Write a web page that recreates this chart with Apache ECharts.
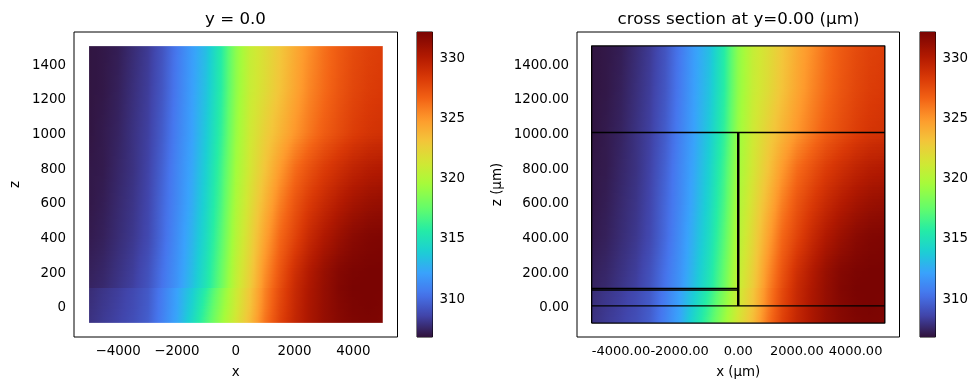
<!DOCTYPE html>
<html><head><meta charset="utf-8">
<style>html,body{margin:0;padding:0;background:#fff}#c{width:980px;height:390px}</style>
<script src="https://cdn.jsdelivr.net/npm/echarts@6/dist/echarts.min.js"></script>
</head><body><div id="c"></div>
<script>
// ---- tick labels / scales ----
const xTicks = [-4000,-2000,0,2000,4000];
const zTicks = [0,200,400,600,800,1000,1200,1400];
const cbTicks = [310,315,320,325,330];
const cbLevels = [306.7,309,311,313,315,317,319,321,323,325,327,329,331,332];
// ---- sampled temperature (columns at xNodes) ----
const xNodes = [-5000,-4500,-4000,-3500,-3000,-2500,-2000,-1500,-1000,-500,0,500,1000,1500,2000,2500,3000,3500,4000,4500,5000];
const T_z1500 = [306.8,306.9,307.1,307.6,308.1,309.0,310.4,311.8,313.1,315.5,318.6,320.6,321.7,322.8,324.0,325.0,326.0,326.8,327.4,327.8,328.0];
const T_z1250 = [306.8,306.9,307.2,307.7,308.2,309.1,310.5,311.9,313.3,315.6,318.7,320.7,321.8,323.0,324.2,325.3,326.2,327.0,327.6,328.0,328.2];
const T_z1000 = [306.8,307.0,307.3,307.8,308.3,309.3,310.7,312.0,313.6,315.9,319.0,321.0,322.4,323.6,324.8,325.8,326.7,327.4,328.0,328.4,328.6];
const T_z800  = [306.9,307.0,307.4,307.8,308.4,309.5,310.9,312.2,313.9,316.3,319.3,321.2,322.9,324.6,326.1,327.1,328.0,328.7,329.3,329.7,329.9];
const T_z600  = [306.9,307.1,307.5,307.9,308.5,309.7,311.0,312.4,314.2,316.6,319.7,321.6,323.6,325.5,327.0,328.1,329.0,329.8,330.4,330.8,331.0];
const T_z400  = [307.0,307.2,307.6,308.0,308.6,309.8,311.2,312.7,314.5,317.0,320.0,322.0,324.3,326.3,327.7,329.0,330.0,330.8,331.4,331.7,331.8];
const T_z200  = [307.2,307.4,307.8,308.2,308.9,310.1,311.4,313.0,314.9,317.4,320.4,322.4,325.0,327.0,328.7,329.9,330.9,331.6,331.9,332.0,332.0];
const T_z100a = [307.3,307.5,307.9,308.3,309.0,310.2,311.5,313.2,315.1,317.6,320.6,322.6,325.3,327.3,329.0,330.1,331.0,331.7,332.0,332.0,332.0];
const T_z100b = [307.6,307.9,308.2,308.6,309.2,310.5,312.0,313.6,315.6,318.2,320.8,322.8,325.4,327.4,329.0,330.1,331.0,331.7,332.0,332.0,332.0];
const T_z0    = [307.7,308.0,308.3,308.7,309.3,310.6,312.1,314.0,316.2,318.6,321.0,323.0,325.6,327.6,329.1,330.2,331.0,331.6,331.9,332.0,331.9];
const T_zm100 = [307.8,308.1,308.4,308.8,309.4,310.7,312.2,314.4,316.6,319.0,321.3,323.3,325.9,327.8,329.2,330.2,331.0,331.5,331.8,331.9,331.8];
const rowsUpper = [[1500,T_z1500],[1250,T_z1250],[1000,T_z1000],[800,T_z800],[600,T_z600],[400,T_z400],[200,T_z200],[100,T_z100a]];
const rowsLower = [[100,T_z100b],[0,T_z0],[-100,T_zm100]];
// ---- structure outline (x,z), null = break ----
const outlineX = [-5000,5000,5000,-5000,-5000,null,-5000,5000,null,-5000,5000,null,-5000,0,null,-5000,0,null,-20,-20,null,20,20];
const outlineZ = [-100,-100,1500,1500,-100,null,1000,1000,null,0,0,null,100,100,null,91,91,null,0,1000,null,0,1000];
const edgeX = [-5000,5000,5000,-5000,-5000];
const edgeZ = [-100,-100,1500,1500,-100];
// ---- colormap ----
const turboStops = ['#30123b','#4145ab','#4675ed','#39a2fc','#1bcfd4','#24eca6','#61fc6c','#a4fc3b','#d1e834','#f3c63a','#fe9b2d','#f36315','#d93806','#b11901','#7a0402'];
const turboPos = [0,.07,.14,.21,.28,.35,.42,.5,.57,.64,.71,.78,.85,.92,1];
const vMin = 306.7, vMax = 332;

const rgb = h => [1,3,5].map(i => parseInt(h.substr(i,2),16));
const stopsRgb = turboStops.map(rgb);
function colorAt(v){
  const t = Math.min(1,Math.max(0,(v-vMin)/(vMax-vMin)));
  let i = 0; while(i<turboPos.length-2 && t>turboPos[i+1]) i++;
  const f = (t-turboPos[i])/(turboPos[i+1]-turboPos[i]);
  const a = stopsRgb[i], b = stopsRgb[i+1];
  return 'rgb('+a.map((c,k)=>Math.round(c+(b[k]-c)*f)).join(',')+')';
}
function hGrad(vL,vR){
  const st=[]; for(let k=0;k<=4;k++){ st.push({offset:k/4,color:colorAt(vL+(vR-vL)*k/4)}); }
  return new echarts.graphic.LinearGradient(0,0,1,0,st);
}
function vGrad(vLo,vHi){
  const st=[]; for(let k=0;k<=4;k++){ st.push({offset:k/4,color:colorAt(vHi+(vLo-vHi)*k/4)}); }
  return new echarts.graphic.LinearGradient(0,0,0,1,st);
}
const cells = [];
[rowsUpper,rowsLower].forEach(rows=>{
  for(let r=0;r<rows.length-1;r++){
    const [zA,tA]=rows[r],[zB,tB]=rows[r+1];
    for(let i=0;i<xNodes.length-1;i++){
      cells.push([xNodes[i],zA,xNodes[i+1],zB,tA[i],tA[i+1],tB[i],tB[i+1]]);
    }
  }
});
function renderCell(params,api){
  const x0=api.value(0),zA=api.value(1),x1=api.value(2),zB=api.value(3);
  const a=api.value(4),b=api.value(5),c=api.value(6),d=api.value(7);
  const pA=api.coord([x0,zA]),pB=api.coord([x1,zB]);
  const xl=Math.round(pA[0]),xr=Math.round(pB[0]);
  const yt=Math.round(pA[1]),yb=Math.round(pB[1]);
  const n=Math.max(1,Math.ceil((yb-yt)/3)), kids=[];
  for(let j=0;j<n;j++){
    const f=(j+.5)/n;
    const y0=yt+Math.round(j*(yb-yt)/n), y1=yt+Math.round((j+1)*(yb-yt)/n);
    kids.push({type:'rect',silent:true,
      shape:{x:xl,y:y0,width:xr-xl,height:y1-y0},
      style:{fill:hGrad(a+(c-a)*f,b+(d-b)*f)}});
  }
  return {type:'group',children:kids};
}
function renderBar(params,api){
  const lo=api.value(0),hi=api.value(1);
  const pLo=api.coord([0,lo]),pHi=api.coord([1,hi]);
  const yt=Math.round(pHi[1]),yb=Math.round(pLo[1]);
  return {type:'rect',silent:true,
    shape:{x:pLo[0],y:yt,width:pHi[0]-pLo[0],height:yb-yt},
    style:{fill:vGrad(lo,hi)}};
}
const barData = cbLevels.slice(0,-1).map((v,i)=>[v,cbLevels[i+1]]);

const FONT='"DejaVu Sans"';
const lab={fontFamily:FONT,fontSize:13.4,color:'#000'};
const border={show:true,borderColor:'#000',borderWidth:1,backgroundColor:'transparent'};
const grids=[
 {left:74,top:32,width:323.5,height:305,...border},
 {left:417,top:32,width:15.5,height:305,...border},
 {left:577,top:32,width:322.5,height:305,...border},
 {left:920,top:32,width:15.5,height:305,...border}
];
const tick={show:true,length:3.5,lineStyle:{color:'#000',width:1}};
function xAx(g,fmt,name,gap,fs){return {type:'value',gridIndex:g,min:-5500,max:5500,position:'bottom',
  name,nameLocation:'middle',nameGap:gap,nameTextStyle:lab,
  splitLine:{show:false},axisLine:{show:false},
  axisTick:{...tick,customValues:xTicks},
  axisLabel:{...lab,fontSize:fs,margin:8.5,hideOverlap:false,customValues:xTicks,formatter:fmt}};}
function zAx(g,fmt,name,gap){return {type:'value',gridIndex:g,min:-180,max:1580,position:'left',
  name,nameLocation:'middle',nameGap:gap,nameTextStyle:lab,
  splitLine:{show:false},axisLine:{show:false},
  axisTick:{...tick,customValues:zTicks},
  axisLabel:{...lab,margin:8,verticalAlign:'top',lineHeight:4,customValues:zTicks,formatter:fmt}};}
function cbX(g){return {type:'value',gridIndex:g,min:0,max:1,show:false};}
function cbY(g){return {type:'value',gridIndex:g,min:vMin,max:vMax,position:'right',
  splitLine:{show:false},axisLine:{show:false},
  axisTick:{...tick,customValues:cbTicks},
  axisLabel:{...lab,margin:7,verticalAlign:'top',lineHeight:4,customValues:cbTicks}};}
const minus=v=>String(v).replace('-','\u2212');
const two=v=>v.toFixed(2);
const chart=echarts.init(document.getElementById('c'),null,{renderer:'canvas'});
const cellEnc={x:[0,2],y:[1,3]};
const titleStyle={fontFamily:FONT,fontSize:16.67,fontWeight:'normal',color:'#000'};
chart.setOption({
  animation:false,backgroundColor:'#fff',
  title:[
   {text:'y = 0.0',left:230.5,top:6,textAlign:'center',textStyle:titleStyle},
   {text:'cross section at y=0.00 (\u00b5m)',left:733.5,top:6,textAlign:'center',textStyle:titleStyle}
  ],
  grid:grids,
  xAxis:[xAx(0,minus,'x',29,13.4),cbX(1),xAx(2,two,'x (\u00b5m)',29,13),cbX(3)],
  yAxis:[zAx(0,v=>String(v),'z',52),cbY(1),zAx(2,two,'z (\u00b5m)',73),cbY(3)],
  series:[
   {type:'custom',name:'T left',xAxisIndex:0,yAxisIndex:0,data:cells,encode:cellEnc,renderItem:renderCell,clip:true,silent:true,progressive:0},
   {type:'custom',name:'cb left',xAxisIndex:1,yAxisIndex:1,data:barData,encode:{y:[0,1]},renderItem:renderBar,silent:true,progressive:0},
   {type:'custom',name:'T right',xAxisIndex:2,yAxisIndex:2,data:cells,encode:cellEnc,renderItem:renderCell,clip:true,silent:true,progressive:0},
   {type:'custom',name:'cb right',xAxisIndex:3,yAxisIndex:3,data:barData,encode:{y:[0,1]},renderItem:renderBar,silent:true,progressive:0},
   {type:'line',name:'edge',xAxisIndex:0,yAxisIndex:0,showSymbol:false,silent:true,z:5,
    lineStyle:{color:'#fff',opacity:.35,width:1},
    data:edgeX.map((x,i)=>[x,edgeZ[i]])},
   {type:'line',name:'structure',xAxisIndex:2,yAxisIndex:2,showSymbol:false,connectNulls:false,silent:true,z:5,
    lineStyle:{color:'#000',width:1.3},
    data:outlineX.map((x,i)=>[x,outlineZ[i]]).map(p=>p[0]===null?[NaN,NaN]:p)}
  ]
});
</script></body></html>
